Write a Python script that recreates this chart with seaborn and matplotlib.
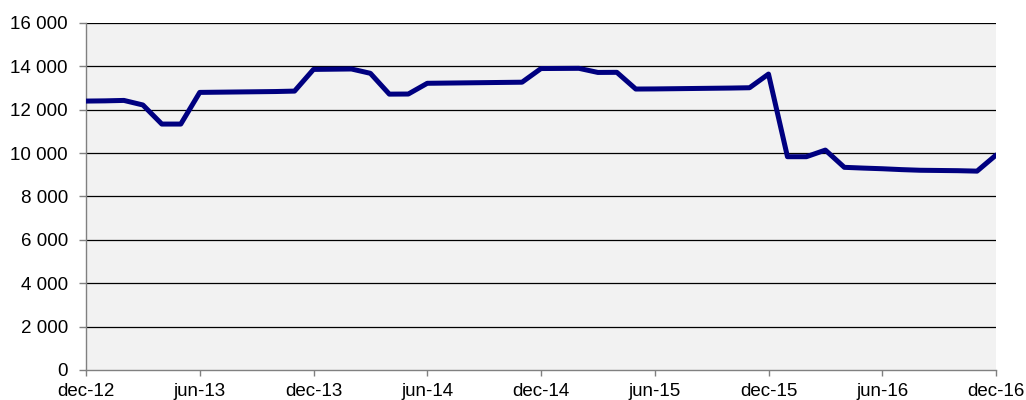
import pandas as pd
import seaborn as sns
import matplotlib.pyplot as plt

# Monthly values, dec-12 .. dec-16 (49 points)
month_index = list(range(49))
values = [12400, 12410, 12430, 12220, 11340, 11340, 12800, 12810, 12820, 12830,
          12840, 12860, 13860, 13870, 13880, 13680, 12720, 12725, 13220, 13230,
          13240, 13250, 13260, 13270, 13900, 13905, 13910, 13720, 13725, 12955,
          12960, 12970, 12980, 12990, 13000, 13015, 13645, 9835, 9835, 10140,
          9345, 9310, 9280, 9240, 9210, 9200, 9190, 9170, 9910]
tick_pos = [0, 6, 12, 18, 24, 30, 36, 42, 48]
tick_labels = ['dec-12', 'jun-13', 'dec-13', 'jun-14', 'dec-14',
               'jun-15', 'dec-15', 'jun-16', 'dec-16']
y_ticks = [0, 2000, 4000, 6000, 8000, 10000, 12000, 14000, 16000]
y_labels = ['0', '2 000', '4 000', '6 000', '8 000', '10 000', '12 000', '14 000', '16 000']

data = pd.DataFrame({'month': month_index, 'value': values})

sns.set_style('white')
plt.rcParams['font.family'] = ['Liberation Sans', 'DejaVu Sans']

fig = plt.figure(figsize=(10.26, 4.0), dpi=100)
ax = fig.add_axes([86 / 1026, 30 / 400, 910 / 1026, 347 / 400])
ax.set_facecolor('#F2F2F2')

# horizontal gridlines
for y in y_ticks[1:]:
    ax.axhline(y, color='black', lw=0.9, zorder=1)

sns.lineplot(data=data, x='month', y='value', ax=ax, color='#000080',
             lw=3.6, zorder=3)

ax.set_xlim(0, 48)
ax.set_ylim(0, 16000)
ax.set_xticks(tick_pos)
ax.set_xticklabels(tick_labels)
ax.set_yticks(y_ticks)
ax.set_yticklabels(y_labels)
ax.set_xlabel('')
ax.set_ylabel('')

for side in ['top', 'right']:
    ax.spines[side].set_visible(False)
for side in ['left', 'bottom']:
    ax.spines[side].set_color('#808080')
    ax.spines[side].set_linewidth(1.0)

ax.tick_params(axis='y', which='major', direction='out', length=5, width=1,
               color='#808080', pad=8, labelsize=13.5, labelcolor='black', left=True)
ax.tick_params(axis='x', which='major', direction='out', length=4, width=1,
               color='#808080', pad=5, labelsize=13.5, labelcolor='black', bottom=True)

plt.savefig('out.png', dpi=100)
plt.close()
